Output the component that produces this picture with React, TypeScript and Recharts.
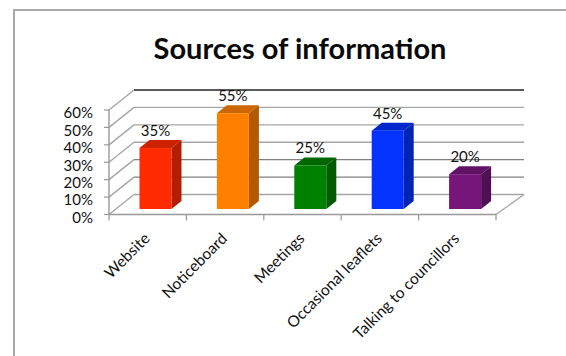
import React from 'react';
import { BarChart, Bar, XAxis, YAxis, CartesianGrid, LabelList } from 'recharts';

const categories = ['Website', 'Noticeboard', 'Meetings', 'Occasional leaflets', 'Talking to councillors'];
const shares = [35, 55, 25, 45, 20];
const percentTicks = [0, 10, 20, 30, 40, 50, 60];

const frontColors = ['#ff2a00', '#ff8000', '#008000', '#0433ff', '#76167a'];
const sideColors = ['#b31d00', '#b35900', '#005a00', '#0024b3', '#4f0f52'];
const topColors = ['#cc2200', '#cc6600', '#006600', '#0029cc', '#621264'];

const rows = categories.map((name, i) => ({ name, share: shares[i] }));

const FONT = 'Lato, "Open Sans", sans-serif';
const CHART_W = 566;
const CHART_H = 356;
const PLOT_LEFT = 109;
const PLOT_RIGHT = 496;
const PLOT_TOP = 110;
const PLOT_BOTTOM = 214.5;
const HALF_BAND = (PLOT_RIGHT - PLOT_LEFT) / categories.length / 2;

// how far the back wall sits behind the front plane
const WALL_DX = 25;
const WALL_DX_RIGHT = 28;
const WALL_DY = 20;
// bars stand in the middle of the floor, with a little depth of their own
const BAR_DX = 7.5;
const BAR_DY = 5.5;
const BAR_DEPTH_X = 10;
const BAR_DEPTH_Y = 8;

const Box = (props: any) => {
  const { x, y, width, height, index } = props;
  const l = x + BAR_DX;
  const r = l + width;
  const t = y - BAR_DY;
  const b = t + height;
  const dx = BAR_DEPTH_X;
  const dy = BAR_DEPTH_Y;
  return (
    <g>
      <polygon points={`${l},${t} ${l + dx},${t - dy} ${r + dx},${t - dy} ${r},${t}`} fill={topColors[index]} />
      <polygon points={`${r},${t} ${r + dx},${t - dy} ${r + dx},${b - dy} ${r},${b}`} fill={sideColors[index]} />
      <rect x={l} y={t} width={width} height={height} fill={frontColors[index]} />
    </g>
  );
};

// one gridline runs up the side wall and then along the back wall
const WallLine = (props: any) => {
  const { x1, x2, y1, index } = props;
  const backY = y1 - WALL_DY;
  const isTop = y1 <= PLOT_TOP + 1;
  const isFloor = y1 >= PLOT_BOTTOM - 1;
  const backStroke = isTop ? '#222' : y1 > 170 && !isFloor ? '#808080' : '#a6a6a6';
  return (
    <g key={`wall-${index}`} fill="none" strokeWidth={1.4}>
      <line x1={x1} y1={y1} x2={x1 + WALL_DX} y2={backY} stroke="#a6a6a6" />
      <line x1={x1 + WALL_DX} y1={backY} x2={x2 + WALL_DX_RIGHT} y2={backY} stroke={backStroke} />
      {isFloor && <line x1={x2} y1={y1} x2={x2 + WALL_DX_RIGHT} y2={backY} stroke="#a6a6a6" />}
    </g>
  );
};

// axis ticks fall between the bars, and each name is tilted up to its band centre
const CategoryTick = (props: any) => {
  const { x, y, payload, index } = props;
  const isLast = index === categories.length - 1;
  const ax = x + 3;
  const ay = y + 17;
  return (
    <g>
      <line x1={x - HALF_BAND} y1={PLOT_BOTTOM} x2={x - HALF_BAND} y2={PLOT_BOTTOM + 6} stroke="#999" strokeWidth={1.2} />
      {isLast && (
        <line x1={x + HALF_BAND} y1={PLOT_BOTTOM} x2={x + HALF_BAND} y2={PLOT_BOTTOM + 6} stroke="#999" strokeWidth={1.2} />
      )}
      <text
        x={ax}
        y={ay}
        transform={`rotate(-45 ${ax} ${ay})`}
        textAnchor="end"
        fontFamily={FONT}
        fontSize={15.5}
        fill="#111"
      >
        {payload.value}
      </text>
    </g>
  );
};

const ShareLabel = (props: any) => {
  const { x, y, width, value } = props;
  return (
    <text
      x={x + width / 2 + BAR_DX}
      y={y - BAR_DY - BAR_DEPTH_Y - 4}
      textAnchor="middle"
      fontFamily={FONT}
      fontSize={15}
      fill="#111"
    >
      {`${value}%`}
    </text>
  );
};

export default function App() {
  return (
    <div style={{ position: 'fixed', left: 0, top: 0, width: CHART_W, height: CHART_H, overflow: 'hidden', background: '#fff' }}>
      <div
        style={{
          position: 'absolute',
          left: 13,
          top: 9,
          right: 0,
          bottom: 0,
          borderLeft: '2px solid #aaa',
          borderTop: '2px solid #aaa',
        }}
      />
      <div
        style={{
          position: 'absolute',
          left: 0,
          width: 600,
          top: 33,
          textAlign: 'center',
          fontFamily: FONT,
          fontWeight: 700,
          fontSize: 29,
          lineHeight: '30px',
          color: '#0a0a0a',
        }}
      >
        Sources of information
      </div>
      <div style={{ position: 'absolute', left: 0, top: 0 }}>
        <BarChart
          width={CHART_W}
          height={CHART_H}
          data={rows}
          margin={{ top: PLOT_TOP, right: CHART_W - PLOT_RIGHT, bottom: 0, left: 0 }}
          barSize={32}
        >
          <CartesianGrid vertical={false} horizontal={WallLine} />
          <XAxis
            dataKey="name"
            interval={0}
            height={CHART_H - PLOT_BOTTOM}
            tickLine={false}
            axisLine={{ stroke: '#999', strokeWidth: 1.6 }}
            tick={CategoryTick}
          />
          <YAxis
            width={PLOT_LEFT}
            domain={[0, 60]}
            ticks={percentTicks}
            interval={0}
            tickFormatter={(v: number) => `${v}%`}
            tickSize={5}
            tickMargin={11}
            axisLine={{ stroke: '#999', strokeWidth: 1.4 }}
            tickLine={{ stroke: '#999', strokeWidth: 1.2 }}
            tick={{ fontFamily: FONT, fontSize: 15, fill: '#111', dy: 3 }}
          />
          <Bar dataKey="share" isAnimationActive={false} shape={Box}>
            <LabelList dataKey="share" content={ShareLabel} />
          </Bar>
        </BarChart>
      </div>
    </div>
  );
}
